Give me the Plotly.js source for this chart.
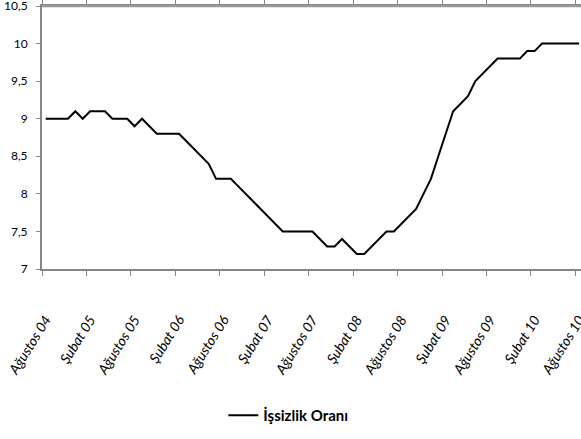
<!DOCTYPE html>
<html>
<head>
<meta charset="utf-8">
<script src="https://cdn.plot.ly/plotly-3.0.1.min.js"></script>
<style>
html, body { margin: 0; padding: 0; overflow: hidden; background: #fff; }
#chart { width: 581px; height: 439px; }
</style>
</head>
<body>
<div id="chart"></div>
<script>
// Month names (Turkish) and the period covered
const monthNames = ['Ocak','Şubat','Mart','Nisan','Mayıs','Haziran','Temmuz','Ağustos','Eylül','Ekim','Kasım','Aralık'];
const startMonthIndex = 7;   // Ağustos
const startYear = 2004;
const monthCount = 73;       // Ağustos 04 .. Ağustos 10

// Unemployment rate (İşsizlik Oranı), monthly
const issizlikOrani = [
  9.0, 9.0, 9.0, 9.0, 9.1, 9.0, 9.1, 9.1, 9.1, 9.0, 9.0, 9.0,
  8.9, 9.0, 8.9, 8.8, 8.8, 8.8, 8.8, 8.7, 8.6, 8.5, 8.4, 8.2,
  8.2, 8.2, 8.1, 8.0, 7.9, 7.8, 7.7, 7.6, 7.5, 7.5, 7.5, 7.5,
  7.5, 7.4, 7.3, 7.3, 7.4, 7.3, 7.2, 7.2, 7.3, 7.4, 7.5, 7.5,
  7.6, 7.7, 7.8, 8.0, 8.2, 8.5, 8.8, 9.1, 9.2, 9.3, 9.5, 9.6,
  9.7, 9.8, 9.8, 9.8, 9.8, 9.9, 9.9, 10.0, 10.0, 10.0, 10.0, 10.0,
  10.0
];

// Y axis ticks
const yTickVals = [7, 7.5, 8, 8.5, 9, 9.5, 10, 10.5];
const yTickText = ['7', '7,5', '8', '8,5', '9', '9,5', '10', '10,5'];

const seriesName = 'İşsizlik Oranı';

// Build category labels like "Ağustos 04"
const categories = [];
for (let i = 0; i < monthCount; i++) {
  const m = (startMonthIndex + i) % 12;
  const y = startYear + Math.floor((startMonthIndex + i) / 12);
  categories.push(monthNames[m] + ' ' + String(y % 100).padStart(2, '0'));
}

const fontFamily = 'Lato, "Liberation Sans", sans-serif';

const trace = {
  x: categories,
  y: issizlikOrani,
  type: 'scatter',
  mode: 'lines',
  name: seriesName,
  line: { color: '#000000', width: 2 },
  hoverinfo: 'x+y'
};

const layout = {
  width: 581,
  height: 439,
  margin: { l: 42, r: 0, t: 6, b: 170, pad: 0 },
  paper_bgcolor: '#ffffff',
  plot_bgcolor: '#ffffff',
  separators: ',.',
  font: { family: fontFamily, size: 13, color: '#000000' },
  showlegend: true,
  legend: {
    orientation: 'h',
    x: 0.457, xanchor: 'center',
    y: -0.557, yanchor: 'middle',
    font: { family: fontFamily, size: 15, weight: 'bold', color: '#000000' },
    itemwidth: 30
  },
  shapes: [{
    type: 'line', xref: 'paper', yref: 'paper',
    x0: 0, x1: 1, y0: 1, y1: 1,
    line: { color: '#999999', width: 2.5 }
  }],
  xaxis: {
    type: 'category',
    range: [-0.5, 72.26],
    dtick: 6,
    tick0: 0,
    tickson: 'boundaries',
    ticks: 'outside',
    ticklen: 5,
    tickwidth: 1,
    tickcolor: '#868686',
    tickangle: -58,
    ticklabelstandoff: 35,
    ticklabeloverflow: 'allow',
    tickfont: { family: fontFamily, size: 14, style: 'italic', color: '#000000' },
    showgrid: false,
    zeroline: false,
    showline: true,
    linecolor: '#868686',
    linewidth: 2,
    mirror: 'all',
    fixedrange: true
  },
  yaxis: {
    range: [7, 10.5],
    tickmode: 'array',
    tickvals: yTickVals,
    ticktext: yTickText,
    ticks: 'outside',
    ticklen: 4,
    tickwidth: 1,
    tickcolor: '#868686',
    ticklabelstandoff: 6,
    ticklabeloverflow: 'allow',
    tickfont: { family: fontFamily, size: 12, color: '#000000' },
    showgrid: false,
    zeroline: false,
    showline: true,
    linecolor: '#868686',
    linewidth: 2,
    fixedrange: true
  }
};

Plotly.newPlot('chart', [trace], layout, { displayModeBar: false, staticPlot: true });
</script>
</body>
</html>
